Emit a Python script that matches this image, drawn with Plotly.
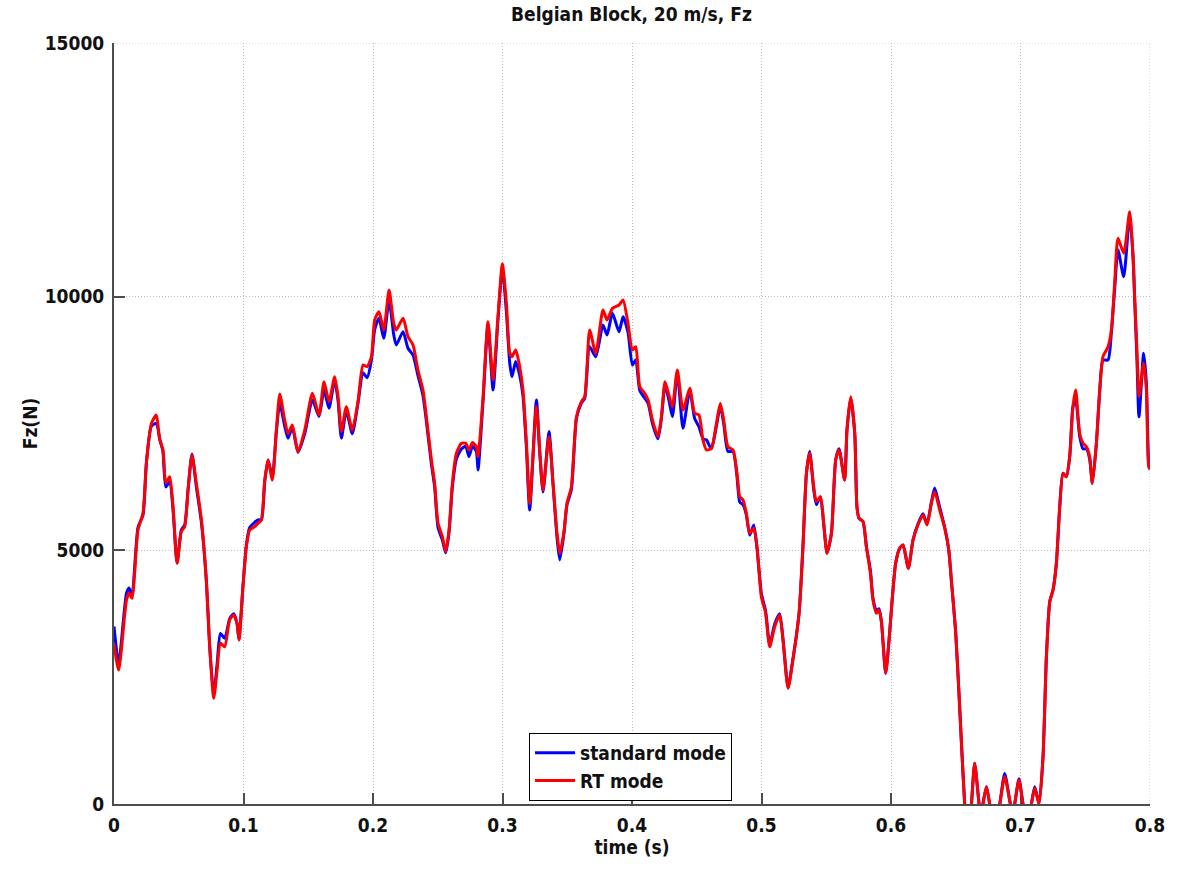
import plotly.graph_objects as go

# Vertical tyre force over the Belgian block at 20 m/s
time_s = [
    0.0000, 0.0036, 0.0096, 0.0116, 0.0139, 0.0185, 0.0224, 0.0250, 0.0289, 0.0327,
    0.0353, 0.0378, 0.0400, 0.0430, 0.0456, 0.0487, 0.0520, 0.0546, 0.0572, 0.0602,
    0.0636, 0.0675, 0.0713, 0.0739, 0.0770, 0.0796, 0.0822, 0.0855, 0.0893, 0.0924,
    0.0950, 0.0965, 0.0996, 0.1022, 0.1048, 0.1086, 0.1112, 0.1138, 0.1164, 0.1190,
    0.1223, 0.1254, 0.1280, 0.1318, 0.1344, 0.1377, 0.1421, 0.1473, 0.1532, 0.1583,
    0.1622, 0.1660, 0.1704, 0.1730, 0.1756, 0.1794, 0.1840, 0.1884, 0.1923, 0.1954,
    0.1988, 0.2013, 0.2046, 0.2083, 0.2124, 0.2160, 0.2180, 0.2232, 0.2270, 0.2309,
    0.2347, 0.2386, 0.2412, 0.2451, 0.2476, 0.2502, 0.2536, 0.2561, 0.2587, 0.2613,
    0.2644, 0.2683, 0.2716, 0.2741, 0.2768, 0.2798, 0.2811, 0.2850, 0.2888, 0.2927,
    0.2965, 0.2999, 0.3030, 0.3056, 0.3073, 0.3102, 0.3133, 0.3158, 0.3185, 0.3210,
    0.3262, 0.3287, 0.3313, 0.3359, 0.3390, 0.3421, 0.3442, 0.3473, 0.3498, 0.3532,
    0.3571, 0.3609, 0.3635, 0.3673, 0.3720, 0.3776, 0.3807, 0.3849, 0.3900, 0.3931,
    0.3969, 0.4003, 0.4029, 0.4060, 0.4098, 0.4124, 0.4158, 0.4200, 0.4227, 0.4255,
    0.4286, 0.4312, 0.4350, 0.4394, 0.4446, 0.4484, 0.4517, 0.4548, 0.4575, 0.4613,
    0.4652, 0.4682, 0.4708, 0.4741, 0.4780, 0.4811, 0.4832, 0.4857, 0.4883, 0.4909,
    0.4940, 0.4965, 0.4999, 0.5032, 0.5063, 0.5102, 0.5140, 0.5166, 0.5205, 0.5239,
    0.5290, 0.5320, 0.5347, 0.5372, 0.5403, 0.5424, 0.5455, 0.5480, 0.5506, 0.5540,
    0.5573, 0.5599, 0.5642, 0.5660, 0.5689, 0.5720, 0.5737, 0.5753, 0.5784, 0.5810,
    0.5841, 0.5861, 0.5887, 0.5907, 0.5926, 0.5959, 0.5985, 0.6011, 0.6036, 0.6067,
    0.6093, 0.6134, 0.6170, 0.6208, 0.6247, 0.6278, 0.6312, 0.6337, 0.6376, 0.6415,
    0.6446, 0.6466, 0.6500, 0.6530, 0.6556, 0.6590, 0.6621, 0.6646, 0.6680, 0.6695,
    0.6710, 0.6737, 0.6762, 0.6800, 0.6840, 0.6878, 0.6922, 0.6940, 0.6955, 0.6988,
    0.7019, 0.7050, 0.7084, 0.7110, 0.7143, 0.7174, 0.7200, 0.7226, 0.7251, 0.7277,
    0.7303, 0.7328, 0.7354, 0.7380, 0.7405, 0.7426, 0.7457, 0.7483, 0.7509, 0.7534,
    0.7555, 0.7586, 0.7612, 0.7637, 0.7676, 0.7702, 0.7727, 0.7753, 0.7797, 0.7843,
    0.7869, 0.7882, 0.7900, 0.7915, 0.7951, 0.7972, 0.7990, 0.8000,
]

fz_standard = [
    3500, 2770, 4150, 4260, 4100, 5450, 5700, 6720, 7450, 7500,
    7200, 6950, 6250, 6350, 5800, 4750, 5400, 5500, 6200, 6900,
    6250, 5550, 4400, 3100, 2150, 2750, 3360, 3265, 3650, 3750,
    3560, 3250, 4300, 5100, 5450, 5550, 5600, 5600, 6350, 6780,
    6450, 7350, 7900, 7450, 7210, 7420, 6930, 7300, 7964, 7640,
    8160, 7800, 8350, 7950, 7210, 7750, 7300, 7900, 8500, 8400,
    8750, 9350, 9574, 9180, 9935, 9250, 9048, 9310, 8983, 8850,
    8450, 8050, 7550, 6700, 6250, 5450, 5200, 4950, 5350, 6250,
    6800, 7000, 7050, 6847, 7050, 6950, 6584, 7950, 9450, 8160,
    9550, 10550, 9700, 8687, 8423, 8720, 8450, 8050, 7000, 5795,
    7964, 6950, 6150, 7340, 6320, 5250, 4810, 5300, 5900, 6200,
    7600, 7900, 8000, 9015, 8817, 9442, 9245, 9672, 9310, 9606,
    9300, 8654, 8752, 8150, 8000, 7900, 7500, 7200, 7600, 8250,
    7950, 7634, 8500, 7405, 8150, 7600, 7438, 7200, 7175, 7000,
    7450, 7850, 7500, 6950, 6950, 6450, 5950, 5900, 5700, 5300,
    5500, 5050, 4150, 3800, 3150, 3550, 3750, 3250, 2300, 2800,
    3759, 5072, 6518, 6950, 6200, 5900, 6057, 5533, 4942, 5336,
    6781, 7000, 6387, 7372, 8000, 7307, 5860, 5632, 5565, 5072,
    4600, 4050, 3800, 3850, 3594, 2576, 3233, 4086, 4744, 5040,
    5105, 4646, 5204, 5520, 5720, 5520, 5950, 6230, 5850, 5450,
    5007, 4415, 3365, 1918, 605, -700, 0, 802, 0, -300,
    0, 341, 0, -500, 0, 600, 0, -150, 0, 500,
    0, -400, 0, 340, 0, 933, 2900, 3990, 4218, 4744,
    5860, 6518, 6452, 6847, 7831, 7964, 7250, 7000, 7000, 6800,
    6320, 7110, 8160, 8750, 8752, 9300, 10150, 10920, 10395, 11610,
    10789, 9935, 8700, 7634, 8884, 8300, 6700, 6600,
]

fz_rt = [
    3150, 2640, 4020, 4160, 4055, 5400, 5730, 6720, 7500, 7670,
    7175, 6980, 6330, 6450, 5860, 4745, 5370, 5467, 6190, 6880,
    6320, 5600, 4415, 3100, 2083, 2640, 3167, 3100, 3627, 3725,
    3560, 3233, 4283, 5072, 5400, 5467, 5533, 5600, 6387, 6780,
    6387, 7372, 8080, 7570, 7300, 7470, 6945, 7372, 8095, 7668,
    8324, 7930, 8423, 8029, 7340, 7831, 7372, 7930, 8654, 8620,
    8817, 9540, 9705, 9344, 10132, 9475, 9344, 9574, 9212, 9048,
    8555, 8160, 7634, 6781, 6320, 5533, 5270, 4973, 5400, 6320,
    6913, 7110, 7110, 6978, 7125, 7043, 6847, 8029, 9507, 8358,
    9606, 10645, 9870, 8884, 8817, 8950, 8620, 8160, 7110, 5927,
    7831, 6978, 6190, 7240, 6320, 5336, 4942, 5336, 5927, 6255,
    7634, 7930, 8029, 9344, 8884, 9738, 9540, 9770, 9836, 9935,
    9475, 8950, 9015, 8226, 8095, 7964, 7569, 7240, 7634, 8324,
    8050, 7831, 8555, 7767, 8194, 7701, 7668, 7175, 6978, 7010,
    7504, 7898, 7569, 7043, 6978, 6518, 6057, 5992, 5730, 5336,
    5435, 5072, 4086, 3759, 3100, 3495, 3726, 3233, 2280, 2774,
    3759, 5072, 6518, 6913, 6255, 5960, 6057, 5533, 4942, 5336,
    6781, 6978, 6387, 7372, 8029, 7307, 5860, 5632, 5565, 5072,
    4548, 4021, 3759, 3824, 3594, 2576, 3233, 4086, 4744, 5040,
    5105, 4646, 5204, 5500, 5697, 5500, 5927, 6157, 5795, 5435,
    5007, 4415, 3365, 1918, 605, -700, 0, 802, 0, -300,
    0, 341, 0, -500, 0, 538, 0, -150, 0, 473,
    0, -400, 0, 309, 0, 933, 2900, 3990, 4218, 4744,
    5860, 6518, 6452, 6847, 7831, 8161, 7307, 7110, 7043, 6847,
    6320, 7110, 8160, 8817, 9015, 9344, 10264, 11151, 10855, 11676,
    10789, 9935, 8900, 8029, 8687, 8160, 6650, 6600,
]

x_ticks = [0, 0.1, 0.2, 0.3, 0.4, 0.5, 0.6, 0.7, 0.8]
x_tick_text = ["0", "0.1", "0.2", "0.3", "0.4", "0.5", "0.6", "0.7", "0.8"]
y_ticks = [0, 5000, 10000, 15000]
y_tick_text = ["0", "5000", "10000", "15000"]

FONT = "DejaVu Sans Condensed, DejaVu Sans, sans-serif"
AXIS_COLOR = "#4d4d4d"
GRID_COLOR = "#bdbdbd"
GRID_DASH = "1px,2px"
TEXT_FONT = dict(family=FONT, size=19, color="#111111", weight="bold")

fig = go.Figure()
fig.add_trace(go.Scatter(
    x=time_s, y=fz_standard, mode="lines", name="standard mode",
    line=dict(color="#0000ff", width=3, shape="spline", smoothing=0.6),
))
fig.add_trace(go.Scatter(
    x=time_s, y=fz_rt, mode="lines", name="RT mode",
    line=dict(color="#ff0000", width=3, shape="spline", smoothing=0.6),
))

axis_common = dict(
    showline=True, linecolor=AXIS_COLOR, linewidth=2, mirror=False,
    ticks="inside", ticklen=11, tickwidth=1.5, tickcolor=AXIS_COLOR,
    showgrid=True, gridcolor=GRID_COLOR, griddash=GRID_DASH, gridwidth=1,
    zeroline=False, layer="below traces",
    tickfont=TEXT_FONT,
)

# Grid lines on the far edges of the axes box (right and top)
edge_grid = [
    dict(type="line", xref="x", yref="paper", x0=x_ticks[-1], x1=x_ticks[-1], y0=0, y1=1,
         line=dict(color=GRID_COLOR, width=1, dash=GRID_DASH), layer="below"),
    dict(type="line", xref="paper", yref="y", x0=0, x1=1, y0=y_ticks[-1], y1=y_ticks[-1],
         line=dict(color=GRID_COLOR, width=1, dash=GRID_DASH), layer="below"),
]

fig.update_layout(
    width=1193, height=869,
    margin=dict(l=114, r=43, t=43, b=65),
    paper_bgcolor="white", plot_bgcolor="white",
    title=dict(
        text="Belgian Block, 20 m/s, Fz",
        x=0.5293, xanchor="center", y=0.983, yanchor="middle",
        font=TEXT_FONT,
    ),
    xaxis=dict(
        axis_common, range=[0, 0.8], tickvals=x_ticks, ticktext=x_tick_text,
        ticklabelstandoff=3,
        title=dict(text="time (s)", standoff=2, font=TEXT_FONT),
    ),
    yaxis=dict(
        axis_common, range=[0, 15000], tickvals=y_ticks, ticktext=y_tick_text,
        ticklabelstandoff=4,
        title=dict(text="Fz(N)", standoff=2, font=TEXT_FONT),
    ),
    legend=dict(
        x=0.4006, xanchor="left", y=0.0933, yanchor="top",
        bgcolor="white", bordercolor="#000000", borderwidth=1,
        font=TEXT_FONT,
        itemwidth=40, tracegroupgap=0,
    ),
    shapes=edge_grid,
    showlegend=True,
)

fig.write_html("out.html")
